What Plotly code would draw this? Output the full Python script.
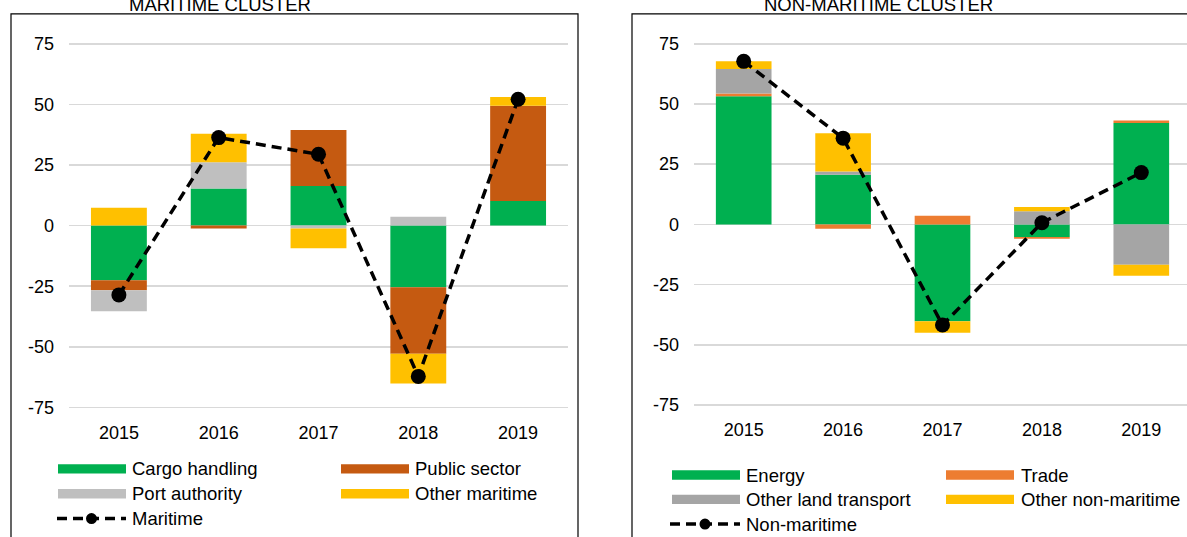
import plotly.graph_objects as go

W, H = 1187, 537

years = ["2015", "2016", "2017", "2018", "2019"]

# Maritime cluster components
cargo_handling = [-22.6, 15.3, 16.3, -25.4, 10.1]
public_sector = [-4.1, -1.2, 23.1, -27.5, 39.3]
port_authority = [-8.6, 10.8, -1.2, 3.6, 0.0]
other_maritime = [7.4, 11.8, -8.1, -12.2, 3.6]
maritime_total = [-28.6, 36.3, 29.4, -62.2, 52.1]

# Non-maritime cluster components
energy = [53.2, 20.6, -40.2, -5.2, 42.1]
trade = [1.1, -1.8, 3.6, -0.8, 1.0]
other_land_transport = [10.2, 1.4, 0.0, 5.5, -16.8]
other_non_maritime = [3.2, 15.8, -4.8, 1.7, -4.5]
non_maritime_total = [67.7, 35.8, -41.8, 0.7, 21.5]

y_ticks = [-75, -50, -25, 0, 25, 50, 75]
y_tick_labels = ["-75", "-50", "-25", "0", "25", "50", "75"]

GREEN = "#00B050"
RUST = "#C55A11"
LIGHTGRAY = "#BFBFBF"
GOLD = "#FFC000"
ORANGE = "#ED7D31"
GRAY = "#A5A5A5"

FONT = "Liberation Sans, Arial, sans-serif"


def fx(p):
    return p / W


def fy(p):
    return 1 - p / H


fig = go.Figure()

left_series = [
    ("Cargo handling", cargo_handling, GREEN),
    ("Public sector", public_sector, RUST),
    ("Port authority", port_authority, LIGHTGRAY),
    ("Other maritime", other_maritime, GOLD),
]
right_series = [
    ("Energy", energy, GREEN),
    ("Trade", trade, ORANGE),
    ("Other land transport", other_land_transport, GRAY),
    ("Other non-maritime", other_non_maritime, GOLD),
]

for name, vals, col in left_series:
    fig.add_trace(go.Bar(x=years, y=vals, name=name, marker=dict(color=col, line=dict(width=0)),
                         xaxis="x", yaxis="y", showlegend=False))
fig.add_trace(go.Scatter(x=years, y=maritime_total, name="Maritime", mode="lines+markers",
                         line=dict(color="black", width=3.5, dash="10px,6px"),
                         marker=dict(size=15, color="black"), xaxis="x", yaxis="y", showlegend=False))

for name, vals, col in right_series:
    fig.add_trace(go.Bar(x=years, y=vals, name=name, marker=dict(color=col, line=dict(width=0)),
                         xaxis="x2", yaxis="y2", showlegend=False))
fig.add_trace(go.Scatter(x=years, y=non_maritime_total, name="Non-maritime", mode="lines+markers",
                         line=dict(color="black", width=3.5, dash="10px,6px"),
                         marker=dict(size=15, color="black"), xaxis="x2", yaxis="y2", showlegend=False))

# geometry (pixels)
L_x0, L_x1 = 69, 568
R_x0, R_x1_true = 694, 1191
L_c, L_ppu = 226.85, 2.438
R_c, R_ppu = 225.65, 2.422
ytop, ybot = 80, -78

yaxis_common = dict(range=[ybot, ytop], tickvals=y_ticks, ticktext=y_tick_labels, showgrid=True,
                    gridcolor="#D9D9D9", gridwidth=1.5, zeroline=False, showline=False, ticks="",
                    tickfont=dict(size=18, color="#000000", family=FONT), ticklabelstandoff=14,
                    fixedrange=True)
xaxis_common = dict(type="category", showgrid=False, zeroline=False, showline=False, ticks="",
                    tickfont=dict(size=18, color="#000000", family=FONT), ticklabelstandoff=5,
                    fixedrange=True)

r_span = 5 * (W - R_x0) / (R_x1_true - R_x0)

fig.update_layout(
    width=W, height=H, autosize=False,
    margin=dict(l=0, r=0, t=0, b=0),
    paper_bgcolor="white", plot_bgcolor="white",
    barmode="relative", bargap=0.44,
    font=dict(family=FONT, color="#000000", size=18),
    xaxis=dict(domain=[fx(L_x0), fx(L_x1)], range=[-0.5, 4.5], anchor="y", **xaxis_common),
    yaxis=dict(domain=[fy(L_c - ybot * L_ppu), fy(L_c - ytop * L_ppu)], anchor="x", **yaxis_common),
    xaxis2=dict(domain=[fx(R_x0), 1.0], range=[-0.5, -0.5 + r_span], anchor="y2", **xaxis_common),
    yaxis2=dict(domain=[fy(R_c - ybot * R_ppu), fy(R_c - ytop * R_ppu)], anchor="x2", **yaxis_common),
)

shapes = []
annotations = []

# panel boxes
shapes.append(dict(type="rect", xref="paper", yref="paper", x0=fx(11), x1=fx(578), y0=fy(640), y1=fy(14),
                   line=dict(color="#000000", width=1.2), fillcolor="rgba(0,0,0,0)", layer="below"))
shapes.append(dict(type="rect", xref="paper", yref="paper", x0=fx(632), x1=fx(1300), y0=fy(640), y1=fy(14),
                   line=dict(color="#000000", width=1.2), fillcolor="rgba(0,0,0,0)", layer="below"))

# panel titles
annotations.append(dict(text="MARITIME CLUSTER", x=fx(219.5), y=fy(4.5), xref="paper", yref="paper",
                        xanchor="center", yanchor="middle", showarrow=False,
                        font=dict(size=18.5, color="#000000", family=FONT)))
annotations.append(dict(text="NON-MARITIME CLUSTER", x=fx(878.5), y=fy(4.5), xref="paper", yref="paper",
                        xanchor="center", yanchor="middle", showarrow=False,
                        font=dict(size=18.5, color="#000000", family=FONT)))


def swatch(x0, x1, yc, col):
    shapes.append(dict(type="rect", xref="paper", yref="paper", x0=fx(x0), x1=fx(x1),
                       y0=fy(yc + 4.7), y1=fy(yc - 4.7), line=dict(width=0), fillcolor=col))


def label(x, yc, text):
    annotations.append(dict(text=text, x=fx(x), y=fy(yc), xref="paper", yref="paper",
                            xanchor="left", yanchor="middle", showarrow=False,
                            font=dict(size=18.5, color="#000000", family=FONT)))


def line_key(x0, x1, yc):
    shapes.append(dict(type="line", xref="paper", yref="paper", x0=fx(x0), x1=fx(x1), y0=fy(yc), y1=fy(yc),
                       line=dict(color="black", width=3.5, dash="10px,6px")))
    xm = (x0 + x1) / 2
    shapes.append(dict(type="circle", xref="paper", yref="paper", x0=fx(xm - 5.5), x1=fx(xm + 5.5),
                       y0=fy(yc + 5.5), y1=fy(yc - 5.5), line=dict(width=0), fillcolor="black"))


# left legend
rows_l = [471.5, 496.5, 521.5]
swatch(58, 126, rows_l[0], GREEN); label(130, rows_l[0], "Cargo handling")
swatch(341, 409, rows_l[0], RUST); label(413, rows_l[0], "Public sector")
swatch(58, 126, rows_l[1], LIGHTGRAY); label(130, rows_l[1], "Port authority")
swatch(341, 409, rows_l[1], GOLD); label(413, rows_l[1], "Other maritime")
line_key(57, 126, rows_l[2]); label(130, rows_l[2], "Maritime")

# right legend
rows_r = [477.7, 502.2, 527]
swatch(672, 740, rows_r[0], GREEN); label(744, rows_r[0], "Energy")
swatch(946, 1014, rows_r[0], ORANGE); label(1019, rows_r[0], "Trade")
swatch(672, 740, rows_r[1], GRAY); label(744, rows_r[1], "Other land transport")
swatch(946, 1014, rows_r[1], GOLD); label(1019, rows_r[1], "Other non-maritime")
line_key(670, 740, rows_r[2]); label(744, rows_r[2], "Non-maritime")

fig.update_layout(shapes=shapes, annotations=annotations)

fig.write_html(
    "out.html",
    config={"displayModeBar": False, "staticPlot": True},
    post_script="document.body.style.margin='0';document.body.style.overflow='hidden';",
)
